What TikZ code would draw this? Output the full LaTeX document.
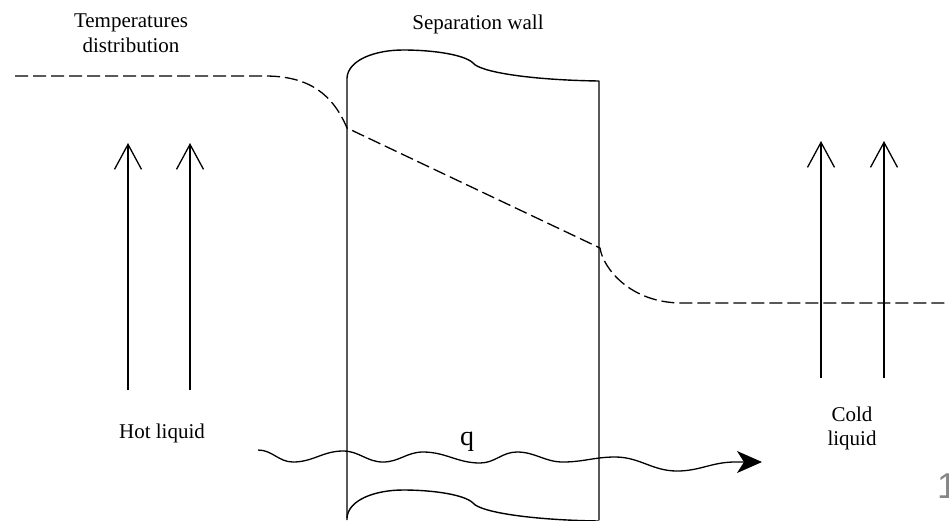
\documentclass[tikz,border=0pt]{standalone}
\usepackage{fontspec}
\setmainfont{Liberation Serif}
\newfontfamily\pagenumfont{Liberation Sans}
\usetikzlibrary{arrows.meta}
\begin{document}
\begin{tikzpicture}[x=1pt,y=-1pt,
  wall/.style={line width=1.4pt, line join=round},
  dashline/.style={line width=1.3pt, dash pattern=on 13pt off 5pt},
  flowarrow/.style={line width=1.3pt, -{Straight Barb[length=25pt,width=27pt,line width=1.3pt]}},
  heatarrow/.style={line width=1.3pt, -{Stealth[length=25pt,width=22pt,inset=7pt]}},
  lbl/.style={font=\fontsize{21}{25}\selectfont, inner sep=0pt, anchor=base},
  qlbl/.style={font=\fontsize{28}{30}\selectfont, inner sep=0pt, anchor=base}]
\useasboundingbox (0,0) rectangle (949,520);

% separation wall
\draw[wall] (347,520) -- (347,78) .. controls (348,60) and (375,50) .. (403,50)
  .. controls (435,50) and (465,55) .. (473,63)
  .. controls (480,72) and (530,80) .. (599,81) -- (599,520);
\draw[wall] (347,518) .. controls (348,500) and (375,490) .. (403,490)
  .. controls (435,490) and (465,495) .. (473,503)
  .. controls (480,512) and (530,520) .. (599,521);

% temperature distribution
\draw[dashline] (15,76) -- (265,76) .. controls (310,76) and (333,95) .. (347,128)
  -- (600,248) .. controls (603,268) and (630,303) .. (682,303) -- (949,303);

% flow arrows
\coordinate (h1s) at (128,390); \coordinate (h1e) at (128,143);
\coordinate (h2s) at (190,390); \coordinate (h2e) at (190,143);
\coordinate (c1s) at (821,378); \coordinate (c1e) at (821,141);
\coordinate (c2s) at (884,378); \coordinate (c2e) at (884,141);
\draw[flowarrow] (h1s) -- (h1e);
\draw[flowarrow] (h2s) -- (h2e);
\draw[flowarrow] (c1s) -- (c1e);
\draw[flowarrow] (c2s) -- (c2e);

% heat flow
\coordinate (qs) at (258,450);
\coordinate (qe) at (762,462);
\draw[heatarrow] (qs) to[out=0,in=180] (293,462) to[out=0,in=180] (343,451)
  to[out=0,in=180] (383,462) to[out=0,in=180] (423,452)
  to[out=0,in=180] (480,463) to[out=0,in=180] (517,452)
  to[out=0,in=180] (563,462) to[out=0,in=180] (615,457)
  to[out=0,in=180] (677,471) to[out=0,in=180] (735,462) -- (qe);

% labels
\node[lbl] (t1) at (131,27) {Temperatures};
\node[lbl] (t2) at (131,52) {distribution};
\node[lbl] (sw) at (478,29) {Separation wall};
\node[lbl] (hl) at (162,438) {Hot liquid};
\node[lbl] (cl1) at (852,421) {Cold};
\node[lbl] (cl2) at (852,445) {liquid};
\node[qlbl] (q) at (467,445) {q};
\node[inner sep=0pt, anchor=base west, text=black!47, font=\pagenumfont\fontsize{36}{40}\selectfont] (pg) at (937,498) {1};
\end{tikzpicture}
\end{document}
